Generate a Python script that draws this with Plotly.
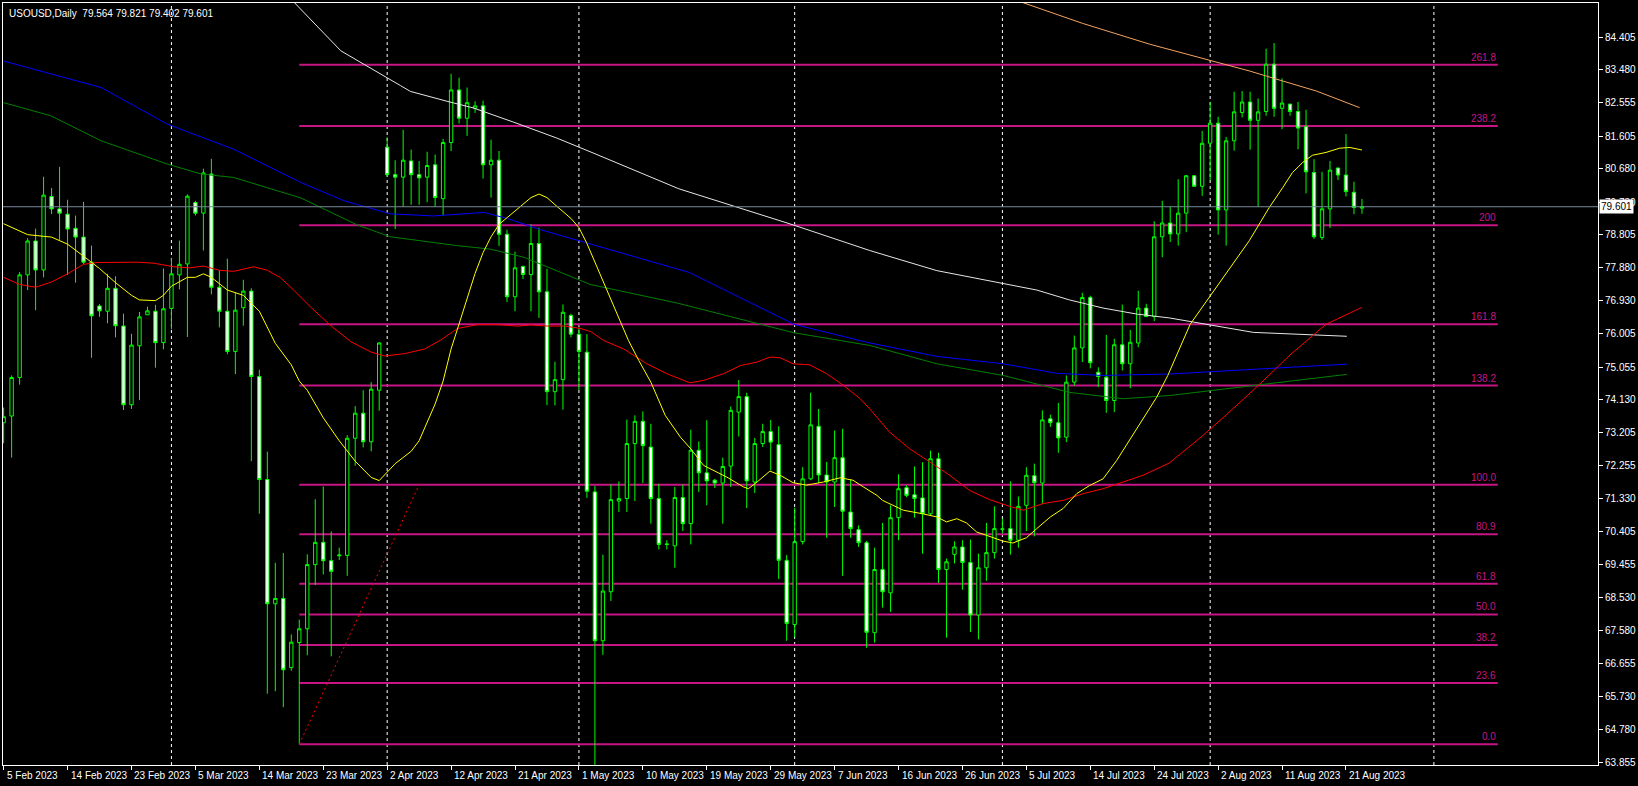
import plotly.graph_objects as go

# ---------------- data ----------------
opens = [73.48,73.67,74.76,77.67,78.63,77.81,79.89,79.54,79.39,78.99,78.74,78.03,76.79,76.64,77.29,76.22,73.99,75.66,76.54,76.64,
         75.75,76.72,77.67,77.98,79.72,79.42,80.53,77.32,76.64,75.50,76.74,77.21,74.79,71.87,68.35,68.50,66.54,67.25,67.64,69.46,
         70.09,69.57,69.71,69.72,73.04,73.75,72.94,74.40,81.29,80.51,80.44,80.90,80.51,80.44,80.79,79.83,81.42,82.91,82.11,82.39,
         82.46,80.79,80.92,78.82,77.05,77.91,77.68,78.56,77.19,74.36,74.70,76.52,75.99,75.48,71.52,67.30,68.69,71.26,71.33,72.89,
         73.52,72.79,71.33,70.03,69.99,71.36,70.62,72.70,72.06,71.85,71.77,72.25,73.78,74.22,71.80,72.89,73.23,72.86,69.58,67.76,
         70.11,71.89,73.38,72.00,71.80,72.49,70.95,70.45,70.08,67.53,69.32,68.66,70.79,71.64,71.44,71.35,70.90,72.46,69.32,69.75,
         69.96,69.52,68.03,69.37,69.80,70.46,70.48,70.15,71.14,71.98,71.77,73.59,73.48,73.07,74.63,75.60,77.03,74.91,74.77,74.11,
         75.69,75.15,75.74,76.73,76.49,78.75,79.14,78.83,79.42,80.48,80.18,81.40,81.97,79.51,81.47,82.27,82.57,82.05,82.30,83.64,
         82.39,82.51,82.30,81.87,80.57,78.73,79.54,80.70,80.50,80.01,79.564]
highs = [73.91,74.82,77.75,78.71,78.98,80.45,80.13,80.73,79.80,79.35,79.74,78.50,76.84,77.70,77.63,76.57,76.00,76.62,76.77,76.82,
         77.85,78.15,78.64,79.95,79.77,80.68,80.96,77.80,78.13,77.16,77.53,77.29,74.98,72.66,69.51,69.79,67.48,67.90,69.75,71.31,
         71.67,70.40,69.94,73.13,73.95,74.40,74.63,75.76,81.57,80.92,81.78,81.22,80.90,81.16,81.08,81.52,83.37,83.26,82.98,82.59,
         82.61,81.50,81.18,78.95,78.33,77.93,79.10,79.01,77.84,75.21,76.83,76.57,76.18,75.99,71.69,69.74,71.73,71.82,73.57,73.69,
         73.80,73.45,71.75,70.15,71.66,71.73,73.28,72.95,73.55,71.89,72.49,73.94,74.69,74.33,73.05,73.45,73.56,73.38,69.73,71.07,
         72.22,74.33,73.87,72.37,73.26,73.31,71.87,70.57,70.13,69.94,70.64,71.14,72.02,71.71,72.24,72.36,72.69,72.63,69.63,70.12,
         70.15,70.17,69.77,70.64,71.11,70.76,71.82,71.39,72.22,72.32,73.83,73.71,74.04,74.82,75.95,77.16,77.08,75.05,75.97,75.86,
         76.83,76.11,77.22,76.85,79.19,79.77,79.60,80.38,80.50,80.50,81.75,82.57,82.15,81.58,82.86,82.88,82.86,82.67,84.08,84.24,
         83.24,82.51,82.57,82.35,80.95,80.59,80.90,80.70,81.66,80.31,79.821]
lows = [72.90,72.49,74.56,77.24,76.67,77.60,79.39,78.66,77.67,77.45,77.97,75.32,76.48,76.30,75.90,73.84,73.87,74.12,76.54,75.04,
        75.56,76.13,77.26,75.91,79.35,78.36,77.12,76.18,75.42,74.86,76.23,72.39,70.90,65.80,65.87,65.42,66.45,64.37,66.89,68.88,
        69.18,66.86,69.59,69.14,72.26,72.78,72.67,73.82,80.45,78.97,79.60,79.66,79.66,79.73,79.60,79.36,81.18,81.96,81.61,82.26,
        80.40,79.86,78.49,76.90,76.64,77.55,76.64,76.45,73.98,73.97,73.85,75.90,74.41,71.35,63.60,66.90,68.43,70.95,70.95,71.26,
        71.77,70.62,69.89,69.89,69.37,70.41,70.03,71.52,71.14,71.63,70.62,71.66,73.09,71.06,71.49,72.79,72.13,69.05,67.30,67.40,
        70.03,71.85,71.77,70.22,71.09,69.14,70.22,69.96,67.10,67.25,68.24,68.12,70.15,71.37,70.79,69.77,70.86,68.94,67.39,69.49,
        68.75,67.55,67.34,69.00,69.63,70.34,69.74,69.94,70.41,70.26,71.17,73.36,72.63,72.93,74.53,75.20,75.02,74.49,73.76,73.78,
        74.96,74.46,75.62,76.47,76.36,78.17,78.60,78.50,78.88,80.18,79.91,80.34,78.81,78.50,81.19,82.13,81.22,79.60,82.18,82.15,
        81.80,82.18,81.23,79.98,78.69,78.66,79.00,80.36,79.89,79.39,79.402]
closes = [73.65,74.76,77.67,78.63,77.81,79.93,79.54,79.42,78.97,78.74,78.03,76.51,76.65,77.29,76.23,73.99,75.68,76.48,76.65,75.75,
          76.71,77.70,77.97,79.90,79.42,80.56,77.32,76.64,75.50,76.67,77.21,74.79,71.87,68.35,68.50,66.48,67.26,67.64,69.46,70.09,
          69.57,69.27,69.73,73.04,73.75,72.94,74.43,75.74,80.51,80.44,80.92,80.51,80.42,80.77,79.86,81.42,82.91,82.11,82.55,82.46,
          80.79,80.92,78.82,77.05,77.87,77.68,78.56,77.19,74.36,74.70,76.61,75.99,75.50,71.54,67.30,68.71,71.30,71.33,72.89,73.52,
          72.83,71.33,70.03,70.04,71.36,70.62,72.70,72.06,71.83,71.77,72.24,73.83,74.22,71.83,72.89,73.23,72.93,69.58,67.79,70.11,
          71.89,73.42,72.00,71.80,72.49,70.97,70.48,70.08,67.54,69.32,68.69,70.79,71.61,71.42,71.33,70.90,72.46,69.32,69.54,69.96,
          69.52,68.03,69.37,69.80,70.48,70.47,70.15,71.11,71.99,71.78,73.56,73.48,73.05,74.63,75.60,77.03,75.18,74.79,74.11,75.69,
          75.15,75.76,76.73,76.49,78.75,79.14,78.83,79.42,80.48,80.18,81.40,81.97,79.51,81.47,82.29,82.57,82.05,82.29,83.64,82.39,
          82.54,82.30,81.83,80.59,78.75,79.54,80.64,80.50,80.03,79.58,79.601]
bars = list(range(len(closes)))

# moving averages sampled at bar positions
ma_yellow_x = [0,3,6,8,10,12,14,16,17,19,20,21,23,24,25,26,28,30,32,34,36,37,38,40,42,44,46,47,49,51,52,53,54,55,56,57,58,59,60,
               61,62,64,66,67,68,69,70,71,72,73,78.2,79.5,81,82.8,84.7,86,87.6,88.8,90.5,92.6,93.2,94.3,95.9,97.2,98.8,100.5,102.6,
               104.7,106.3,107.6,109.3,110,112.6,115,116.8,118,119.3,120.5,121.8,123,125,126.3,128,129.3,131,132.6,134.3,135.9,137.6,
               139.3,140.9,142.6,144.3,145.7,148.5,155.9,157.2,158.4,160.1,161.3,162.6,163.8,165.5,167.2,168.5,170]
ma_yellow_y = [79.12,78.81,78.74,78.54,78.20,77.85,77.45,77.09,76.96,76.94,77.09,77.35,77.60,77.60,77.70,77.60,77.24,77.09,76.64,75.73,
               75.12,74.66,74.40,73.62,72.97,72.39,71.93,71.84,72.32,72.67,72.97,73.49,74.01,74.66,75.57,76.28,77.00,77.71,78.30,
               78.75,79.10,79.47,79.86,79.96,79.86,79.66,79.47,79.27,79.01,78.56,75.81,75.24,74.63,73.69,73.07,72.74,72.27,72.13,
               71.94,71.66,71.61,71.80,72.11,71.99,71.78,71.71,71.80,71.92,71.85,71.66,71.42,71.28,71.00,70.90,70.81,70.67,70.76,
               70.64,70.38,70.29,70.13,70.07,70.22,70.48,70.81,71.05,71.47,71.70,71.89,72.41,72.98,73.59,74.20,74.82,76.27,78.64,
               79.11,79.58,80.15,80.57,80.86,81.06,81.14,81.26,81.28,81.21]
ma_red_x = [0,2,4,6,8,10,11.7,16.7,18.8,21.3,23.3,25,27,28.8,31.3,33,34.6,36.3,38.5,41,43.5,46,47.7,50.2,52.7,54.75,56.8,59.3,61.8,
            64.3,66,68,70.2,72.25,73.5,75.1,77.6,80.5,83,85.9,87.6,90.1,92.2,94.3,95.9,97.2,98.8,100.9,103,105.1,107.2,108.4,110.9,
            113.4,115.9,118.4,120.9,123.4,125.9,127.6,130.1,132.6,135.1,137.6,140.1,142.6,145.9,150,153,157,161,165.5,170]
ma_red_y = [77.60,77.40,77.32,77.47,77.70,77.97,78.02,78.03,78.00,77.90,77.87,77.92,77.80,77.77,77.90,77.80,77.60,77.24,76.74,76.22,
            75.77,75.48,75.37,75.44,75.57,75.83,76.15,76.26,76.26,76.22,76.25,76.22,76.22,76.15,76.06,75.81,75.57,75.15,74.87,74.61,
            74.68,74.87,75.10,75.20,75.34,75.32,75.15,75.12,74.87,74.54,74.16,73.87,73.21,72.74,72.37,71.99,71.56,71.30,71.11,71.00,
            71.19,71.28,71.47,71.61,71.80,71.99,72.34,73.10,73.70,74.53,75.40,76.27,76.75]
ma_white_x = [36.2,42.2,49.7,50.9,55.5,58.8,63.8,69.2,73.4,84.5,98.9,108.4,116.8,125.1,129.3,133.4,137.6,141.8,145.9,156.4,168.1]
ma_white_y = [85.43,84.02,83.03,82.87,82.59,82.40,82.00,81.55,81.16,80.11,79.08,78.36,77.79,77.43,77.24,76.96,76.73,76.56,76.45,76.04,75.93]
ma_blue_x = [0,12.2,20.5,28.8,37.2,42.6,48.4,53.8,60.1,63,67.2,73.4,85.8,98.9,108.4,116.8,125.1,131.8,137.6,145.9,168.1]
ma_blue_y = [83.73,82.98,81.94,81.23,80.29,79.77,79.40,79.34,79.44,79.27,78.95,78.55,77.74,76.27,75.74,75.36,75.15,74.88,74.82,74.86,75.14]
ma_green_x = [0,5.9,12.2,20.5,24.7,28.8,37.2,44.3,48.4,56.7,60.9,65.1,69.3,73.4,84.5,98.9,108.4,116.8,125.1,128.9,133.4,140.1,145.9,168.1]
ma_green_y = [82.55,82.18,81.47,80.81,80.53,80.43,79.85,79.08,78.75,78.50,78.40,78.17,77.78,77.40,76.86,76.03,75.67,75.15,74.82,74.60,
              74.34,74.16,74.25,74.85]
ma_orange_x = [127,135,143.4,151.8,155.9,160,164.3,169.7]
ma_orange_y = [85.43,84.80,84.21,83.69,83.45,83.17,82.88,82.41]

# fibonacci retracement (low bar -> high anchor)
fib_low, fib_high = 64.37, 71.725
fib_start_bar, fib_anchor_bar, fib_end_bar = 37, 52, 187
fib_ratios = [0.0, 23.6, 38.2, 50.0, 61.8, 80.9, 100.0, 138.2, 161.8, 200.0, 238.2, 261.8]
fib_texts = ["0.0", "23.6", "38.2", "50.0", "61.8", "80.9", "100.0", "138.2", "161.8", "200", "238.2", "261.8"]

month_start_bars = [21, 48, 72, 99, 125, 151, 179]
date_label_bars = list(range(0, 169, 8))
date_labels = ["5 Feb 2023", "14 Feb 2023", "23 Feb 2023", "5 Mar 2023", "14 Mar 2023", "23 Mar 2023", "2 Apr 2023",
               "12 Apr 2023", "21 Apr 2023", "1 May 2023", "10 May 2023", "19 May 2023", "29 May 2023", "7 Jun 2023",
               "16 Jun 2023", "26 Jun 2023", "5 Jul 2023", "14 Jul 2023", "24 Jul 2023", "2 Aug 2023", "11 Aug 2023",
               "21 Aug 2023"]
price_ticks = ["84.405", "83.480", "82.555", "81.605", "80.680", "79.730", "78.805", "77.880", "76.930", "76.005", "75.055",
               "74.130", "73.205", "72.255", "71.330", "70.405", "69.455", "68.530", "67.580", "66.655", "65.730", "64.780", "63.855"]
bid_price = 79.601
symbol_title = "USOUSD,Daily  79.564 79.821 79.402 79.601"

# ---------------- figure ----------------
FONT = "Liberation Sans, Arial, sans-serif"
FIB_COLOR = "#C71585"
fig = go.Figure()

fig.add_trace(go.Candlestick(
    x=bars, open=opens, high=highs, low=lows, close=closes,
    increasing=dict(line=dict(color="#00FF00", width=1), fillcolor="#000000"),
    decreasing=dict(line=dict(color="#00FF00", width=1), fillcolor="#FFFFFF"),
    whiskerwidth=0, hoverinfo="skip", showlegend=False))

for xs, ys, col in [(ma_white_x, ma_white_y, "#E6E6E6"), (ma_blue_x, ma_blue_y, "#0000FF"),
                    (ma_green_x, ma_green_y, "#008000"), (ma_red_x, ma_red_y, "#FF0000"),
                    (ma_orange_x, ma_orange_y, "#F4A460"), (ma_yellow_x, ma_yellow_y, "#FFFF00")]:
    fig.add_trace(go.Scatter(x=xs, y=ys, mode="lines", line=dict(color=col, width=1),
                             hoverinfo="skip", showlegend=False))

# fib trend line
fig.add_trace(go.Scatter(x=[fib_start_bar, fib_anchor_bar], y=[fib_low, fib_high], mode="lines",
                         line=dict(color="#FF0000", width=1, dash="2px,3px"), hoverinfo="skip", showlegend=False))

shapes = []
for b in month_start_bars:
    shapes.append(dict(type="line", xref="x", yref="paper", x0=b, x1=b, y0=0, y1=1, layer="below",
                       line=dict(color="#FFFFFF", width=1, dash="3px,3px")))
annotations = []
for r, t in zip(fib_ratios, fib_texts):
    lvl = fib_low + (fib_high - fib_low) * r / 100.0
    shapes.append(dict(type="line", xref="x", yref="y", x0=fib_start_bar, x1=fib_end_bar, y0=lvl, y1=lvl,
                       layer="below", line=dict(color=FIB_COLOR, width=2)))
    annotations.append(dict(x=fib_end_bar, y=lvl, xref="x", yref="y", text=t, showarrow=False,
                            xanchor="right", yanchor="bottom", yshift=0,
                            font=dict(family=FONT, size=10, color=FIB_COLOR)))
# bid line
shapes.append(dict(type="line", xref="paper", yref="y", x0=0, x1=1, y0=bid_price, y1=bid_price,
                   layer="above", line=dict(color="#778899", width=1)))

for b, t in zip(date_label_bars, date_labels):
    annotations.append(dict(x=b, y=0, xref="x", yref="paper", text=t, showarrow=False, xanchor="left",
                            yanchor="top", xshift=1, yshift=-3, font=dict(family=FONT, size=10, color="#FFFFFF")))
annotations.append(dict(x=1, y=bid_price, xref="paper", yref="y", text=f"{bid_price:.3f}", showarrow=False,
                        xanchor="left", yanchor="middle", xshift=1, bgcolor="#FFFFFF", borderpad=1,
                        font=dict(family=FONT, size=10, color="#000000")))
annotations.append(dict(x=0, y=1, xref="paper", yref="paper", text=symbol_title, showarrow=False,
                        xanchor="left", yanchor="top", xshift=4, yshift=-3,
                        font=dict(family=FONT, size=10, color="#FFFFFF")))

fig.update_layout(
    width=1638, height=786, autosize=False,
    paper_bgcolor="#000000", plot_bgcolor="#000000",
    margin=dict(l=2, r=39, t=2, b=21),
    shapes=shapes, annotations=annotations, boxgap=0.4,
    hovermode=False, showlegend=False,
    xaxis=dict(range=[-0.08, 199.54], showgrid=False, zeroline=False, rangeslider=dict(visible=False),
               tickvals=date_label_bars, showticklabels=False, ticks="outside", ticklen=4, tickcolor="#FFFFFF",
               showline=True, linecolor="#FFFFFF", linewidth=1, mirror=True),
    yaxis=dict(range=[63.78, 85.375], side="right", showgrid=False, zeroline=False,
               tickvals=[float(v) for v in price_ticks], ticktext=price_ticks, ticks="outside", ticklen=4,
               tickcolor="#FFFFFF", tickfont=dict(family=FONT, size=10, color="#FFFFFF"),
               showline=True, linecolor="#FFFFFF", linewidth=1, mirror=True),
)

fig.write_html("out.html", config={"displayModeBar": False},
               post_script="document.body.style.margin='0';document.body.style.overflow='hidden';")
